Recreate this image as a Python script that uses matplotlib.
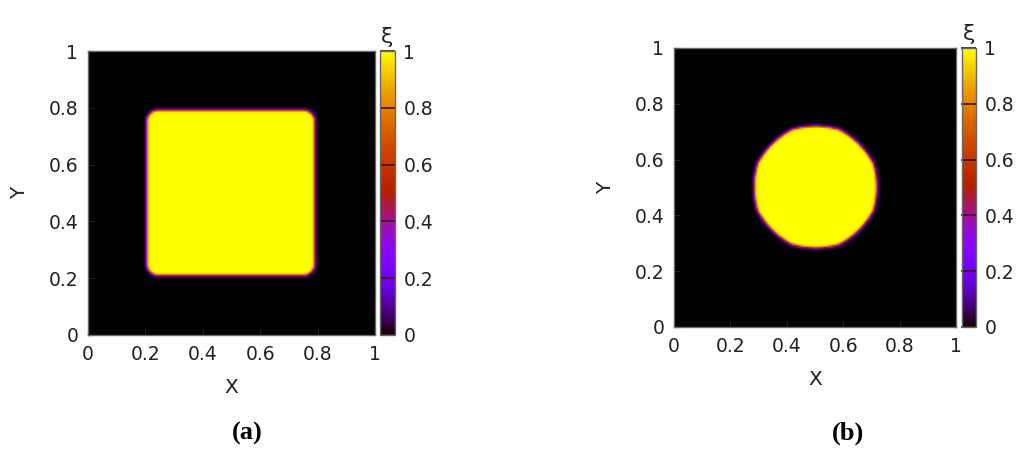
import numpy as np
import matplotlib
matplotlib.use("Agg")
import matplotlib.pyplot as plt

# ---- data ----
ticks = [0, 0.2, 0.4, 0.6, 0.8, 1]
tick_labels = ["0", "0.2", "0.4", "0.6", "0.8", "1"]
cb_ticks = [0, 0.2, 0.4, 0.6, 0.8, 1]
panel_labels = ["a", "b"]
# panel (a): rounded square of phase xi=1
square_x = [0.205, 0.790]
square_y = [0.210, 0.792]
square_corner = 0.040
# panel (b): near-circular domain of xi=1
circle_center = [0.502, 0.500]
circle_radius = 0.221
interface_width = 0.0045
grid_n = 160

W, H = 1024, 454
fig = plt.figure(figsize=(W / 100, H / 100), dpi=100)
fig.patch.set_facecolor("white")

xs = (np.arange(grid_n) + 0.5) / grid_n
X, Y = np.meshgrid(xs, xs)

# signed distance, rounded rectangle
cx = 0.5 * (square_x[0] + square_x[1]); cy = 0.5 * (square_y[0] + square_y[1])
hx = 0.5 * (square_x[1] - square_x[0]) - square_corner
hy = 0.5 * (square_y[1] - square_y[0]) - square_corner
qx = np.abs(X - cx) - hx; qy = np.abs(Y - cy) - hy
d_sq = np.hypot(np.maximum(qx, 0), np.maximum(qy, 0)) + np.minimum(np.maximum(qx, qy), 0) - square_corner
field_a = 0.5 * (1 - np.tanh(d_sq / interface_width))

# near-circle (slightly faceted)
dx = X - circle_center[0]; dy = Y - circle_center[1]
r_circ = np.hypot(dx, dy)
r_oct = np.maximum(np.maximum(np.abs(dx), np.abs(dy)), (np.abs(dx) + np.abs(dy)) / np.sqrt(2)) / np.cos(np.pi / 8) * 0.985
d_c = 0.75 * r_circ + 0.25 * r_oct - circle_radius
field_b = 0.5 * (1 - np.tanh(d_c / interface_width))

fields = [field_a, field_b]

def px(l, t, w, h):
    return [l / W, (H - t - h) / H, w / W, h / H]

layouts = [
    dict(ax=px(88, 51, 287, 284), cb=px(380, 51, 15, 284), lab=(247, 433)),
    dict(ax=px(674, 48, 282, 279), cb=px(962, 48, 14, 279), lab=(848, 433)),
]

font = "DejaVu Sans"
fs = 13.5
for f, lay, pl in zip(fields, layouts, panel_labels):
    ax = fig.add_axes(lay["ax"])
    im = ax.imshow(f, origin="lower", extent=[0, 1, 0, 1], cmap="gnuplot",
                   vmin=0, vmax=1, interpolation="bilinear", aspect="auto")
    ax.set_xlim(0, 1); ax.set_ylim(0, 1)
    ax.set_xticks(ticks); ax.set_yticks(ticks)
    ax.set_xticklabels(tick_labels, fontfamily=font, fontsize=fs, color="#222222")
    ax.set_yticklabels(tick_labels, fontfamily=font, fontsize=fs, color="#222222")
    ax.tick_params(direction="in", length=4, color="#222222", pad=7)
    for s in ax.spines.values():
        s.set_color("#666666"); s.set_linewidth(1.0)
    ax.set_xlabel("X", fontfamily=font, fontsize=fs + 1, labelpad=10, color="#222222")
    ax.set_ylabel("Y", fontfamily=font, fontsize=fs + 1, labelpad=14, color="#222222")

    cax = fig.add_axes(lay["cb"])
    cb = fig.colorbar(im, cax=cax, ticks=cb_ticks)
    cb.ax.set_yticklabels(tick_labels, fontfamily=font, fontsize=fs, color="#222222")
    cb.ax.tick_params(direction="in", length=10.5, width=1.2, color="#3a1010", pad=6)
    cb.outline.set_edgecolor("#666666"); cb.outline.set_linewidth(1.0)
    cb.ax.set_title("ξ", fontfamily="DejaVu Sans", fontsize=16, pad=6, color="#222222")

    fig.text(lay["lab"][0] / W, 1 - lay["lab"][1] / H, f"({pl})",
             fontfamily="Liberation Serif", fontweight="bold", fontsize=19,
             ha="center", va="center")

fig.savefig("out.png", dpi=100)
